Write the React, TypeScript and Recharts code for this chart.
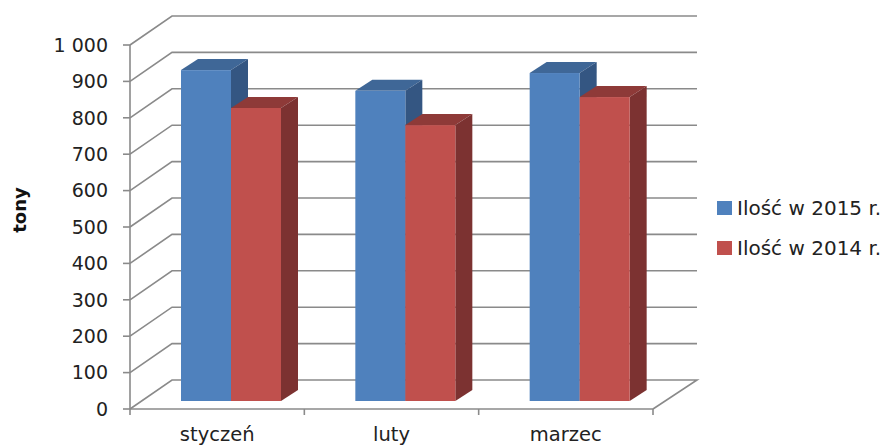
import React from 'react';
import { Bar, BarChart, CartesianGrid, Legend, XAxis, YAxis } from 'recharts';

const months = ['styczeń', 'luty', 'marzec'];
const values2015 = [909, 852, 901];
const values2014 = [805, 758, 835];
const yTicks = [0, 100, 200, 300, 400, 500, 600, 700, 800, 900, 1000];

const data = months.map((month, i) => ({
  month,
  y2015: values2015[i],
  y2014: values2014[i]
}));

const FONT = '"DejaVu Sans", sans-serif';
const AXIS = '#8a8a8a';

// how far the back wall sits behind the axis plane
const WALL_X = 42;
const WALL_Y = 29;
// bars stand part of the way into the floor
const BAR_X = 14;
const BAR_Y = 8;
const DEPTH_X = 17;
const DEPTH_Y = 11;

const Bar3D = (props: any) => {
  const { x, y, width, height, front, top, side } = props;
  const l = x + BAR_X;
  const r = l + width;
  const t = y - BAR_Y;
  const b = t + height;
  return (
    <g>
      <polygon
        points={`${l},${t} ${r},${t} ${r + DEPTH_X},${t - DEPTH_Y} ${l + DEPTH_X},${t - DEPTH_Y}`}
        fill={top}
      />
      <polygon
        points={`${r},${t} ${r + DEPTH_X},${t - DEPTH_Y} ${r + DEPTH_X},${b - DEPTH_Y} ${r},${b}`}
        fill={side}
      />
      <rect x={l} y={t} width={width} height={height} fill={front} />
    </g>
  );
};

const WallLine = (props: any) => {
  const { x1, x2, y1 } = props;
  const isFloor = y1 > 400;
  const backRight = x2 + WALL_X + 2;
  return (
    <g key={props.key}>
      <polyline
        points={`${x1},${y1} ${x1 + WALL_X},${y1 - WALL_Y} ${backRight},${y1 - WALL_Y}${
          isFloor ? ` ${x2},${y1}` : ''
        }`}
        fill="none"
        stroke={AXIS}
        strokeWidth={1.6}
      />
    </g>
  );
};

// tick marks sit on the category boundaries, the label stays centred
const MonthTick = (props: any) => {
  const { x, y, payload, index, width } = props;
  const half = width / (months.length * 2);
  return (
    <g>
      {index === 0 && (
        <line x1={x - half} x2={x - half} y1={y} y2={y + 6} stroke={AXIS} strokeWidth={1.6} />
      )}
      <line x1={x + half} x2={x + half} y1={y} y2={y + 6} stroke={AXIS} strokeWidth={1.6} />
      <text x={x} y={y + 32} textAnchor="middle" fontFamily={FONT} fontSize={19.5} fill="#222">
        {payload.value}
      </text>
    </g>
  );
};

const LegendList = ({ payload }: any) => (
  <div style={{ fontFamily: FONT, fontSize: 20, color: '#222' }}>
    {(payload || []).map((item: any) => (
      <div key={item.value} style={{ display: 'flex', alignItems: 'center', height: 40 }}>
        <span
          style={{ width: 15, height: 14, background: item.color, marginRight: 5, flex: 'none' }}
        />
        <span style={{ whiteSpace: 'nowrap' }}>{item.value}</span>
      </div>
    ))}
  </div>
);

const TonyLabel = () => (
  <text
    transform="translate(26 210) rotate(-90)"
    textAnchor="middle"
    fontFamily={FONT}
    fontSize={18}
    fontWeight={700}
    fill="#111"
  >
    tony
  </text>
);

export default function App() {
  return (
    <div style={{ position: 'absolute', left: 0, top: 0 }}>
      <BarChart
        width={885}
        height={447}
        data={data}
        barSize={50}
        barGap={0}
        margin={{ top: 45, right: 64, bottom: 8, left: 0 }}
      >
        <CartesianGrid horizontal={WallLine} vertical={false} />
        <XAxis
          dataKey="month"
          stroke={AXIS}
          strokeWidth={1.6}
          tickLine={false}
          tickSize={0}
          tickMargin={0}
          tick={<MonthTick />}
        />
        <YAxis
          width={130}
          domain={[0, 1000]}
          ticks={yTicks}
          interval={0}
          stroke={AXIS}
          strokeWidth={1.6}
          tickSize={7}
          tickMargin={15}
          tickFormatter={(v: number) => (v === 1000 ? '1 000' : String(v))}
          tick={{ fontFamily: FONT, fontSize: 19, fill: '#222' }}
          label={<TonyLabel />}
        />
        <Legend
          content={<LegendList />}
          layout="vertical"
          align="right"
          verticalAlign="top"
          itemSorter={null}
          wrapperStyle={{ left: 717, top: 188, width: 168, right: 'auto' }}
        />
        <Bar
          dataKey="y2015"
          name="Ilość w 2015 r."
          fill="#4f81bd"
          isAnimationActive={false}
          shape={<Bar3D front="#4f81bd" top="#3f6797" side="#345682" />}
        />
        <Bar
          dataKey="y2014"
          name="Ilość w 2014 r."
          fill="#c0504d"
          isAnimationActive={false}
          shape={<Bar3D front="#c0504d" top="#8e3a38" side="#7c3231" />}
        />
      </BarChart>
    </div>
  );
}
